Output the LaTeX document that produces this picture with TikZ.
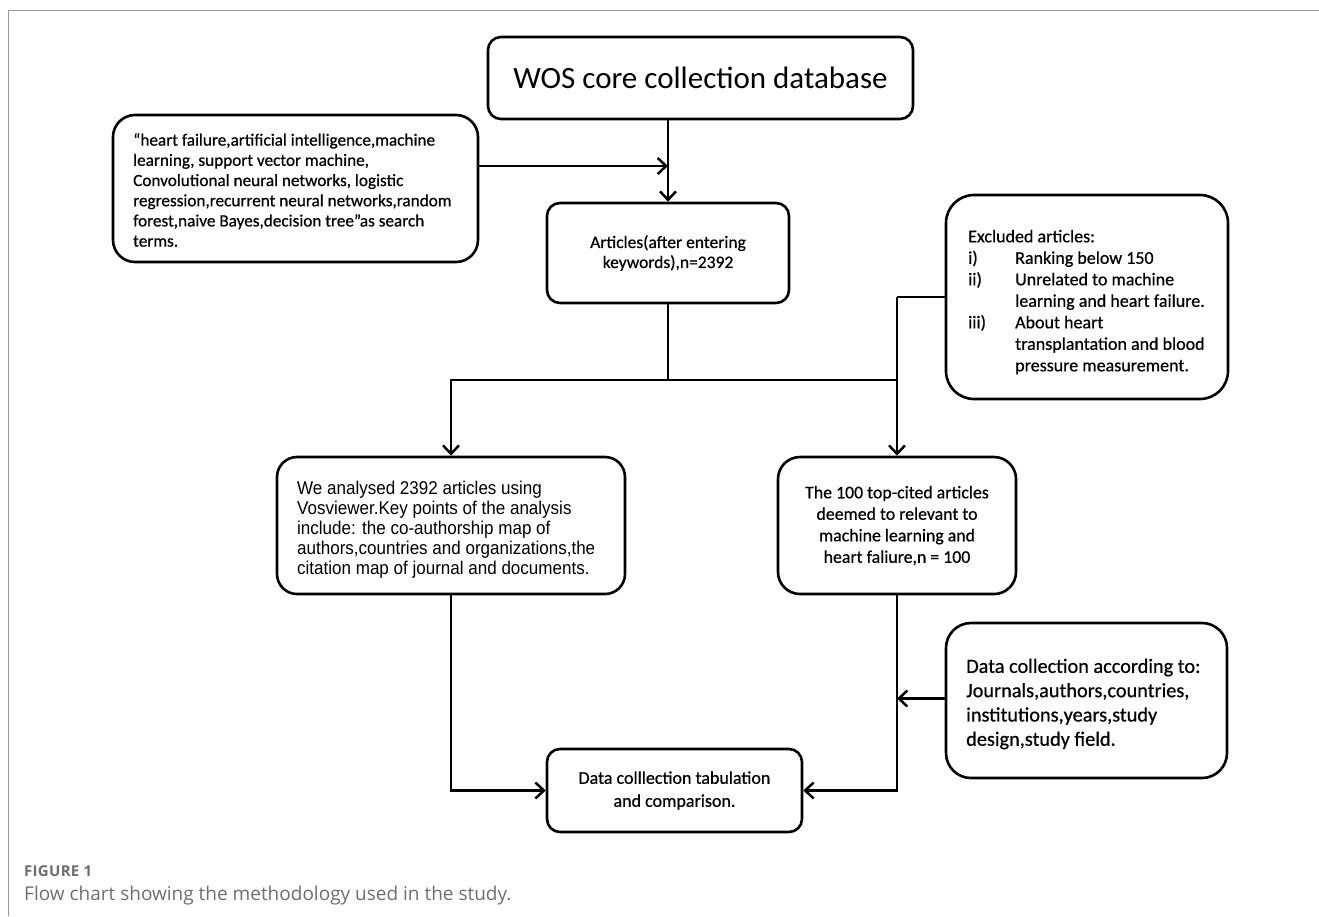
\documentclass[tikz,border=0pt]{standalone}
\usepackage{fontspec}
\setmainfont{Carlito}
\newfontfamily\calf[FakeBold=0.6]{Carlito}
\newfontfamily\arialf[FakeStretch=0.92]{Liberation Sans}
\newfontfamily\capf{Open Sans}
\usetikzlibrary{arrows.meta}
\definecolor{framegray}{HTML}{9A9A9A}
\definecolor{capgray}{HTML}{6E6E6E}
\begin{document}
\begin{tikzpicture}[x=1pt,y=-1pt,
  box/.style={draw, line width=2.6pt, rounded corners=#1, inner sep=0pt},
  box/.default=13pt,
  conn/.style={line width=2.5pt},
  arr/.style={line width=2.5pt, -{Straight Barb[length=8.5pt,width=16pt]}},
  txt/.style={inner sep=0pt, align=left, anchor=west}]
\useasboundingbox (0,0) rectangle (1319,916);
% frame
\draw[framegray, line width=1pt] (8,916) -- (8,10) -- (1319,10);

% boxes
\node[box=13pt, minimum width=425pt, minimum height=82pt,
      font=\fontsize{31}{37}\selectfont] (wos) at (700.5,78) {WOS core collection database};

\node[box=22pt, minimum width=365pt, minimum height=147pt] (sbox) at (295.5,188.5) {};
\node[txt, font=\calf\fontsize{17.2}{20.2}\selectfont] (stext) at (133,190)
 {“heart failure,artificial intelligence,machine\\
  learning, support vector machine,\\
  Convolutional neural networks, logistic\\
  regression,recurrent neural networks,random\\
  forest,naive Bayes,decision tree”as search\\
  terms.};

\node[box=13pt, minimum width=242pt, minimum height=100pt, align=center,
      font=\calf\fontsize{17.5}{20}\selectfont] (art) at (668,253)
 {Articles(after entering\\ keywords),n=2392};

\node[box=28pt, minimum width=282pt, minimum height=204pt] (ex) at (1087,297) {};
\node[txt, font=\calf\fontsize{18}{21.5}\selectfont] (extext) at (968,302)
 {Excluded articles:\\
  \makebox[47pt][l]{i)}Ranking below 150\\
  \makebox[47pt][l]{ii)}Unrelated to machine\\
  \hspace*{47pt}learning and heart failure.\\
  \makebox[47pt][l]{iii)}About heart\\
  \hspace*{47pt}transplantation and blood\\
  \hspace*{47pt}pressure measurement.};

\node[box=20pt, minimum width=348pt, minimum height=137pt] (vbox) at (451,525.5) {};
\node[txt, font=\arialf\fontsize{18.5}{20}\selectfont] (vtext) at (297,530)
 {We analysed 2392 articles using\\
  Vosviewer.Key points of the analysis\\
  include: the co-authorship map of\\
  authors,countries and organizations,the\\
  citation map of journal and documents.};

\node[box=22pt, minimum width=238pt, minimum height=137pt, align=center,
      font=\calf\fontsize{17.8}{21.5}\selectfont] (rbox) at (897,525.5)
 {The 100 top-cited articles\\ deemed to relevant to\\ machine learning and\\ heart faliure,n = 100};

\node[box=25pt, minimum width=281pt, minimum height=155pt] (dbox) at (1086.5,700.5) {};
\node[txt, font=\calf\fontsize{20.3}{24.3}\selectfont] (dtext) at (966,704)
 {Data collection according to:\\
  Journals,authors,countries,\\
  institutions,years,study\\
  design,study field.};

\node[box=13pt, minimum width=255pt, minimum height=83pt, align=center,
      font=\calf\fontsize{18}{23}\selectfont] (fbox) at (674.5,790.5)
 {Data colllection tabulation\\ and comparison.};

% connectors
\draw[arr] (wos.south -| art.north) -- (art.north);
\draw[arr] ([yshift=22.5pt]sbox.east) coordinate (s1) -- (s1 -| art.north);
\coordinate (split) at (art.south |- 0,380);
\draw[conn] (art.south) -- (split);
\draw[arr] (split) -| (vbox.north);
\draw[conn] (split) -- (split -| rbox.north);
\draw[conn] (ex.west) -- (ex.west -| rbox.north) coordinate (exj);
\draw[arr] (exj) -- (rbox.north);
\draw[arr] (vbox.south) |- (fbox.west);
\draw[arr] (rbox.south) |- (fbox.east);
\draw[arr] ([yshift=2pt]dbox.west) -- ([yshift=2pt]dbox.west -| rbox.south);

% caption
\node[anchor=base west, inner sep=0pt, text=capgray,
      font=\capf\bfseries\fontsize{15}{17}\addfontfeatures{LetterSpace=2}\selectfont] (figlab) at (24,876) {FIGURE 1};
\node[anchor=base west, inner sep=0pt, text=capgray, font=\capf\fontsize{19}{22}\selectfont] (cap) at (24,900) {Flow chart showing the methodology used in the study.};
\end{tikzpicture}
\end{document}
